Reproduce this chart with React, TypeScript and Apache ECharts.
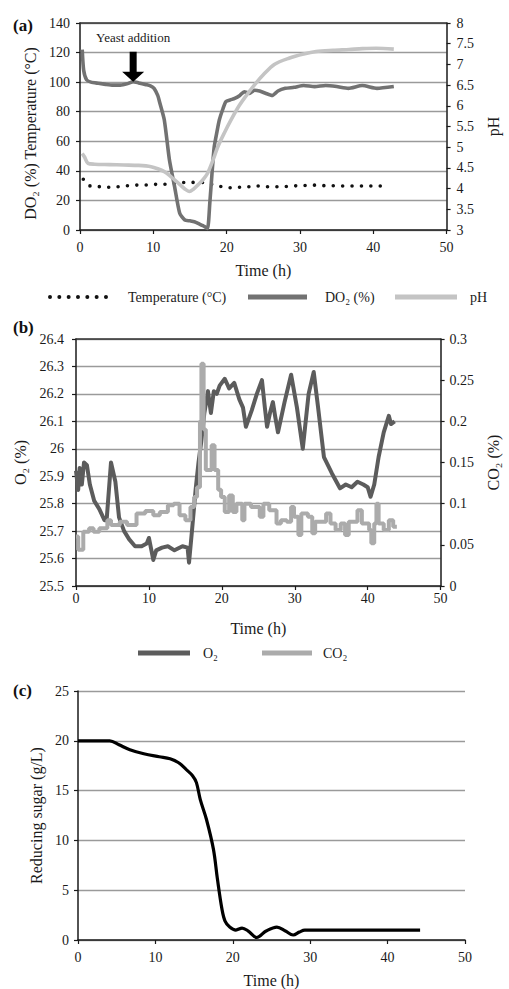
import { useEffect, useRef } from 'react';
import * as echarts from 'echarts';

const FONT = "'Liberation Serif', 'Times New Roman', serif";

// ---------- Panel (a) ----------
const timeTicksLabel = 'Time (h)';

const tempTime = [0.45, 1.36, 2.7, 4.1, 5.3, 6.6, 7.8, 9.1, 10.4, 11.6, 12.9, 14.3, 15.5, 16.8, 19.3, 20.5, 21.7, 22.6, 23.9, 25.3, 26.6, 27.9, 29.1, 30.4, 31.7, 33.1, 33.7, 35.1, 36.4, 37.7, 39.0, 40.2, 41.6];
const tempValues = [34.3, 29.8, 29.3, 28.9, 29.3, 30.0, 30.4, 30.4, 30.9, 30.9, 31.6, 32.2, 32.2, 32.2, 29.3, 28.6, 28.9, 28.9, 30.0, 29.3, 29.3, 29.3, 29.8, 30.0, 30.4, 30.0, 30.0, 29.8, 29.8, 29.8, 29.8, 29.8, 29.8];

const doTime = [0.3, 0.5, 0.9, 1.5, 2.5, 3.5, 4.5, 5.5, 6.5, 7.25, 8, 9, 9.6, 10.1, 10.6, 10.9, 11.5, 12.2, 12.9, 13.6, 14.3, 15.0, 15.6, 16.3, 17.0, 17.4, 17.7, 18.0, 18.3, 18.7, 19.0, 19.5, 19.9, 20.5, 21.1, 21.8, 22.4, 23.1, 23.8, 24.5, 25.3, 26.2, 27.0, 28.0, 29.2, 30.5, 32.0, 33.5, 35.0, 36.6, 38.5, 40.5, 42.8];
const doValues = [122, 108, 101.5, 100, 99.2, 98.5, 98, 98, 99, 100.3, 99.5, 98.3, 97.5, 95.8, 91, 85.7, 74.4, 47.3, 29.3, 11.3, 6.8, 6.2, 5.6, 4.0, 2.3, 1.0, 18, 38, 56, 67, 74.4, 82, 86.8, 88, 89, 91, 93.5, 92.4, 94.5, 94, 92.5, 91, 94, 95.8, 96.5, 97.7, 97, 97.7, 97, 95.8, 97.7, 95.8, 97];

const phTime = [0.3, 0.6, 1.1, 2, 4, 6, 8, 9.7, 10.6, 11.5, 12.2, 12.9, 13.6, 14.3, 14.9, 15.5, 16.1, 16.8, 17.4, 18.1, 18.8, 19.7, 20.6, 21.7, 22.9, 24.0, 25.0, 26.5, 28.5, 30.5, 32.2, 34.5, 36.7, 38.5, 40.4, 42.8];
const phValues = [4.85, 4.77, 4.61, 4.59, 4.58, 4.57, 4.56, 4.53, 4.48, 4.41, 4.32, 4.21, 4.1, 3.99, 3.93, 3.99, 4.09, 4.22, 4.37, 4.67, 5.01, 5.35, 5.66, 6.0, 6.3, 6.55, 6.75, 7.0, 7.15, 7.25, 7.31, 7.34, 7.36, 7.38, 7.39, 7.37];

const yeastTime = 7.25;
const yeastValue = 100.3;

// ---------- Panel (b) ----------
const o2Time = [0, 0.3, 0.5, 0.8, 1.1, 1.5, 1.9, 2.5, 3.2, 3.9, 4.2, 4.8, 5.4, 5.9, 6.6, 7.3, 8.1, 9.0, 9.7, 10.0, 10.6, 11.0, 11.8, 12.6, 13.5, 14.6, 15.3, 15.5, 15.9, 16.4, 16.8, 17.2, 17.6, 18.1, 18.5, 18.9, 19.3, 19.7, 20.4, 21.0, 21.7, 22.4, 22.9, 23.3, 24.1, 24.8, 25.5, 25.9, 26.2, 26.6, 27.0, 27.3, 27.7, 28.6, 29.5, 30.3, 31.1, 31.9, 32.6, 33.2, 34.0, 35.1, 36.2, 37.0, 37.8, 38.6, 39.4, 40.0, 40.4, 40.9, 41.5, 42.2, 42.9, 43.2, 43.7];
const o2Values = [25.92, 25.85, 25.93, 25.87, 25.95, 25.94, 25.87, 25.81, 25.78, 25.74, 25.74, 25.95, 25.88, 25.75, 25.70, 25.67, 25.645, 25.645, 25.655, 25.675, 25.595, 25.63, 25.64, 25.645, 25.63, 25.645, 25.64, 25.585, 25.70, 25.85, 25.95, 26.03, 26.13, 26.21, 26.13, 26.21, 26.2, 26.23, 26.255, 26.22, 26.24, 26.18, 26.15, 26.08, 26.14, 26.2, 26.25, 26.15, 26.08, 26.13, 26.17, 26.12, 26.06, 26.17, 26.27, 26.15, 26.0, 26.2, 26.28, 26.15, 25.97, 25.91, 25.856, 25.87, 25.86, 25.88, 25.87, 25.86, 25.825, 25.87, 25.97, 26.06, 26.12, 26.09, 26.1];

const co2Time = [0, 0.3, 1.0, 1.8, 2.4, 3.2, 4.3, 4.8, 6.0, 7.0, 8.3, 9.5, 10.6, 11.5, 12.6, 13.4, 14.2, 15.0, 15.7, 16.2, 16.6, 17.0, 17.2, 17.5, 17.8, 18.6, 19.0, 19.5, 19.9, 20.4, 21.0, 21.5, 22.0, 22.8, 23.1, 24.0, 25.2, 25.7, 26.5, 27.5, 28.1, 28.9, 29.5, 29.9, 30.5, 30.9, 31.8, 32.4, 32.8, 34.3, 34.9, 35.6, 36.3, 36.9, 37.4, 38.6, 39.2, 40.2, 40.5, 40.9, 41.2, 41.5, 42.2, 42.9, 43.5, 44.0];
const co2Values = [0.06, 0.044, 0.066, 0.07, 0.066, 0.07, 0.08, 0.074, 0.078, 0.074, 0.088, 0.091, 0.086, 0.09, 0.098, 0.1, 0.086, 0.08, 0.096, 0.108, 0.12, 0.2, 0.27, 0.19, 0.141, 0.171, 0.141, 0.117, 0.108, 0.09, 0.11, 0.09, 0.1, 0.08, 0.1, 0.096, 0.084, 0.1, 0.092, 0.076, 0.08, 0.078, 0.096, 0.084, 0.062, 0.088, 0.084, 0.064, 0.078, 0.088, 0.076, 0.068, 0.076, 0.062, 0.078, 0.092, 0.076, 0.068, 0.052, 0.076, 0.1, 0.076, 0.068, 0.08, 0.072, 0.072];

// ---------- Panel (c) ----------
const sugarTime = [0, 4.1, 5.3, 6.7, 8.5, 10.5, 11.9, 13.0, 14.0, 14.8, 15.3, 15.8, 16.6, 17.5, 18.0, 18.6, 19.0, 19.6, 20.4, 21.2, 22.0, 23.1, 24.3, 25.7, 26.8, 27.8, 28.6, 29.3, 30.5, 35, 40, 44.2];
const sugarValues = [20, 20, 19.6, 19.1, 18.7, 18.4, 18.2, 17.8, 17.1, 16.5, 15.8, 14.1, 12.1, 9.1, 6.2, 3.1, 1.9, 1.3, 1.0, 1.2, 0.9, 0.25, 0.9, 1.3, 0.9, 0.5, 0.8, 1.0, 1.0, 1.0, 1.0, 1.0];

const zip = (t: number[], v: number[]) => t.map((x, i) => [x, v[i]]);

const AXIS_COLOR = '#1a1a1a';
const GRID_COLOR = '#9a9a9a';
const TEXT_COLOR = '#1a1a1a';

function xAxisBottom(gridIndex: number, labelMargin: number, nameGap: number) {
  return {
    type: 'value', gridIndex, min: 0, max: 50, interval: 10, position: 'bottom',
    name: timeTicksLabel, nameLocation: 'middle', nameGap,
    nameTextStyle: { fontFamily: FONT, fontSize: 16, color: TEXT_COLOR },
    axisLine: { show: true, onZero: false, lineStyle: { color: AXIS_COLOR, width: 1.5 } },
    axisTick: { show: true, inside: false, length: 4, lineStyle: { color: AXIS_COLOR, width: 1.2 } },
    axisLabel: { margin: labelMargin, fontFamily: FONT, fontSize: 14, color: TEXT_COLOR },
    splitLine: { show: false },
  };
}

function xAxisTop(gridIndex: number) {
  return {
    type: 'value', gridIndex, min: 0, max: 50, interval: 10, position: 'top',
    axisLine: { show: true, onZero: false, lineStyle: { color: '#333', width: 1.5 } },
    axisTick: { show: false }, axisLabel: { show: false }, splitLine: { show: false },
  };
}

function yAxis(opts: any) {
  const { gridIndex, min, max, interval, position, name, nameGap, labelMargin, split, namePadding } = opts;
  return {
    type: 'value', gridIndex, min, max, interval, position,
    name, nameLocation: 'middle', nameGap, nameRotate: 90,
    nameTextStyle: { fontFamily: FONT, fontSize: 16, color: TEXT_COLOR, padding: namePadding || 0 },
    axisLine: { show: true, onZero: false, lineStyle: { color: AXIS_COLOR, width: 1.5 } },
    axisTick: { show: true, inside: false, length: 4, lineStyle: { color: AXIS_COLOR, width: 1.2 } },
    axisLabel: { margin: labelMargin, fontFamily: FONT, fontSize: 14, color: TEXT_COLOR },
    splitLine: { show: split, lineStyle: { color: GRID_COLOR, width: 1.3 } },
  };
}

// dotted legend glyph: 7 round dots across the icon box
const dotIcon = 'path://' + Array.from({ length: 7 }, (_, i) => {
  const cx = 2 + i * 9.33;
  return `M${(cx - 2).toFixed(2)},2 a2,2 0 1,0 4,0 a2,2 0 1,0 -4,0 Z`;
}).join(' ');

function legend(name: string, left: number, top: number, itemWidth: number, textPad: number, icon: string, itemHeight: number) {
  return {
    data: [name], left, top, itemWidth, itemHeight, padding: 0, icon,
    selectedMode: false,
    textStyle: { fontFamily: FONT, fontSize: 14, color: TEXT_COLOR, padding: [0, 0, 0, textPad] },
  };
}

const arrowPath = 'path://M7.5,0 L14.5,0 L14.5,20 L22,20 L11,30 L0,20 L7.5,20 Z';

const option: any = {
  animation: false,
  backgroundColor: '#ffffff',
  textStyle: { fontFamily: FONT },
  grid: [
    { left: 80, top: 23, width: 368, height: 207 },
    { left: 76, top: 339, width: 374, height: 247 },
    { left: 78, top: 691, width: 387, height: 250 },
  ],
  xAxis: [
    xAxisBottom(0, 10, 32),
    xAxisBottom(1, 5, 34),
    xAxisBottom(2, 10, 32),
    xAxisTop(0),
    xAxisTop(1),
  ],
  yAxis: [
    yAxis({ gridIndex: 0, min: 0, max: 140, interval: 20, position: 'left', name: 'DO₂ (%) Temperature (°C)', nameGap: 33, labelMargin: 10, split: true, namePadding: [0, 14, 0, 0] }),
    yAxis({ gridIndex: 0, min: 3, max: 8, interval: 0.5, position: 'right', name: 'pH', nameGap: 38, labelMargin: 10, split: false }),
    yAxis({ gridIndex: 1, min: 25.5, max: 26.4, interval: 0.1, position: 'left', name: 'O₂ (%)', nameGap: 48, labelMargin: 12, split: true }),
    yAxis({ gridIndex: 1, min: 0, max: 0.3, interval: 0.05, position: 'right', name: 'CO₂ (%)', nameGap: 42, labelMargin: 9, split: false }),
    yAxis({ gridIndex: 2, min: 0, max: 25, interval: 5, position: 'left', name: 'Reducing sugar (g/L)', nameGap: 31, labelMargin: 9, split: true }),
  ],
  legend: [
    legend('Temperature (°C)', 48, 290, 60, 15, dotIcon, 4),
    legend('DO₂ (%)', 248, 290, 59, 13, 'rect', 5),
    legend('pH', 395, 290, 62, 8, 'rect', 5),
    legend('O₂', 138, 646, 52, 8, 'rect', 5),
    legend('CO₂', 262, 646, 50, 6, 'rect', 5),
  ],
  series: [
    {
      name: 'Temperature (°C)', type: 'line', xAxisIndex: 0, yAxisIndex: 0,
      data: zip(tempTime, tempValues), symbol: 'none', showSymbol: false,
      lineStyle: { color: '#111', width: 3.6, type: [0, 9.4], cap: 'round' },
      itemStyle: { color: '#111' },
    },
    {
      name: 'DO₂ (%)', type: 'line', xAxisIndex: 0, yAxisIndex: 0,
      data: zip(doTime, doValues), symbol: 'none', showSymbol: false, smooth: 0.2,
      lineStyle: { color: '#727272', width: 3.6 }, itemStyle: { color: '#727272' },
      markPoint: {
        silent: true,
        symbol: arrowPath, symbolSize: [22, 30], symbolOffset: [0, -15], symbolKeepAspect: false,
        itemStyle: { color: '#000' },
        label: {
          show: true, position: 'top', distance: 8, formatter: 'Yeast addition',
          fontFamily: FONT, fontSize: 13, color: TEXT_COLOR,
        },
        data: [{ coord: [yeastTime, yeastValue] }],
      },
    },
    {
      name: 'pH', type: 'line', xAxisIndex: 0, yAxisIndex: 1,
      data: zip(phTime, phValues), symbol: 'none', showSymbol: false, smooth: 0.3,
      lineStyle: { color: '#c4c4c4', width: 3.6 }, itemStyle: { color: '#c4c4c4' },
    },
    {
      name: 'O₂', type: 'line', xAxisIndex: 1, yAxisIndex: 2,
      data: zip(o2Time, o2Values), symbol: 'none', showSymbol: false,
      lineStyle: { color: '#5c5c5c', width: 4, join: 'round' }, itemStyle: { color: '#5c5c5c' },
    },
    {
      name: 'CO₂', type: 'line', xAxisIndex: 1, yAxisIndex: 3, step: 'end',
      data: zip(co2Time, co2Values), symbol: 'none', showSymbol: false,
      lineStyle: { color: '#ababab', width: 4 }, itemStyle: { color: '#ababab' },
    },
    {
      name: 'Reducing sugar', type: 'line', xAxisIndex: 2, yAxisIndex: 4,
      data: zip(sugarTime, sugarValues), symbol: 'none', showSymbol: false, smooth: 0.35,
      lineStyle: { color: '#000', width: 3.2 }, itemStyle: { color: '#000' },
    },
  ],
  graphic: [
    { type: 'text', left: 13, top: 17, style: { text: '(a)', font: `bold 17px ${FONT}`, fill: '#111' } },
    { type: 'text', left: 13, top: 319, style: { text: '(b)', font: `bold 17px ${FONT}`, fill: '#111' } },
    { type: 'text', left: 13, top: 682, style: { text: '(c)', font: `bold 17px ${FONT}`, fill: '#111' } },
  ],
};

export default function App() {
  const ref = useRef<HTMLDivElement>(null);
  useEffect(() => {
    if (!ref.current) return;
    const chart = echarts.init(ref.current, null, { renderer: 'svg' });
    chart.setOption(option);
    return () => chart.dispose();
  }, []);
  return (
    <div
      ref={ref}
      style={{ position: 'fixed', left: 0, top: 0, width: 509, height: 989, background: '#fff' }}
    />
  );
}
